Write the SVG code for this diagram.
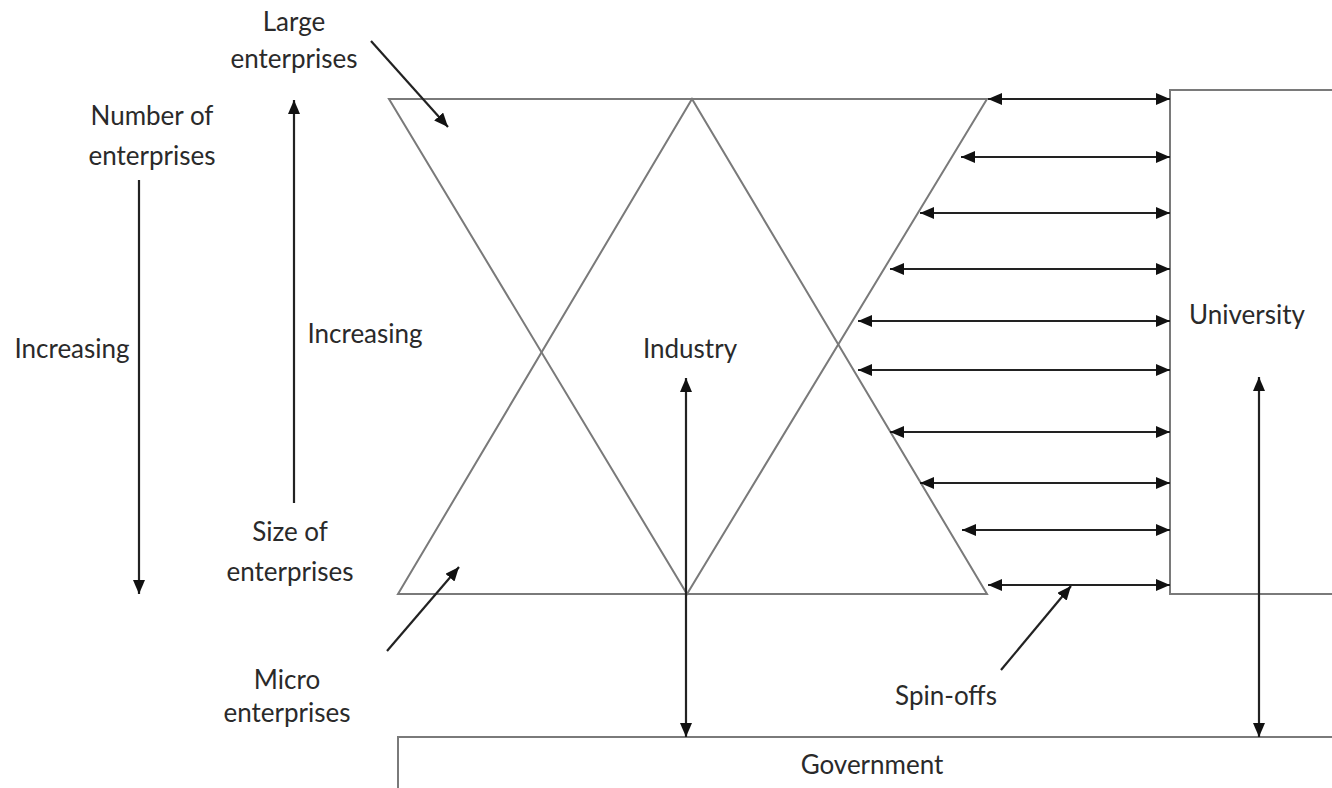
<svg xmlns="http://www.w3.org/2000/svg" width="1332" height="788" viewBox="0 0 1332 788">
<defs>
<marker id="ah" viewBox="0 0 14 12" refX="14" refY="6" markerWidth="14" markerHeight="12" markerUnits="userSpaceOnUse" orient="auto-start-reverse">
<path d="M0,0 L14,6 L0,12 z" fill="#111"/>
</marker>
<style>
.shape{fill:none;stroke:#7a7a7a;stroke-width:2}
.box{fill:#fff;stroke:#7a7a7a;stroke-width:2}
.ar{fill:none;stroke:#222;stroke-width:2.2;marker-end:url(#ah)}
.dar{fill:none;stroke:#222;stroke-width:2.2;marker-end:url(#ah);marker-start:url(#ah)}
.t{font-family:Lato,"Open Sans","Liberation Sans",sans-serif;font-size:26px;fill:#2a2a2a;text-anchor:middle}
</style>
</defs>
<rect width="1332" height="788" fill="#fff"/>
<g id="industry">
<polygon class="shape" points="398,594 692,99 987,594"/>
<polygon class="shape" points="389,99 987,99 687,594"/>
<text class="t" x="690" y="358">Industry</text>
</g>
<g id="university">
<rect class="box" x="1170" y="90" width="180" height="504"/>
<text class="t" x="1247" y="324">University</text>
</g>
<g id="government">
<rect class="box" x="398" y="737" width="960" height="60"/>
<text class="t" x="872" y="774">Government</text>
</g>
<g id="labels">
<text class="t" x="294" y="31">Large</text>
<text class="t" x="294" y="68">enterprises</text>
<text class="t" x="152" y="125">Number of</text>
<text class="t" x="152" y="165">enterprises</text>
<text class="t" x="72" y="358">Increasing</text>
<text class="t" x="365" y="343">Increasing</text>
<text class="t" x="290" y="541">Size of</text>
<text class="t" x="290" y="581">enterprises</text>
<text class="t" x="287" y="689">Micro</text>
<text class="t" x="287" y="722">enterprises</text>
<text class="t" x="946" y="705">Spin-offs</text>
</g>
<g id="connectors">
<line class="dar" x1="988" y1="99" x2="1170" y2="99"/>
<line class="dar" x1="961" y1="157" x2="1170" y2="157"/>
<line class="dar" x1="920" y1="213" x2="1170" y2="213"/>
<line class="dar" x1="890" y1="269" x2="1170" y2="269"/>
<line class="dar" x1="858" y1="321" x2="1170" y2="321"/>
<line class="dar" x1="858" y1="370" x2="1170" y2="370"/>
<line class="dar" x1="890" y1="432" x2="1170" y2="432"/>
<line class="dar" x1="920" y1="483" x2="1170" y2="483"/>
<line class="dar" x1="962" y1="530" x2="1170" y2="530"/>
<line class="dar" x1="988" y1="585" x2="1170" y2="585"/>
<line class="dar" x1="686" y1="378" x2="686" y2="737"/>
<line class="dar" x1="1259" y1="377" x2="1259" y2="737"/>
<line class="ar" x1="139" y1="180" x2="139" y2="594"/>
<line class="ar" x1="294" y1="503" x2="294" y2="100"/>
<line class="ar" x1="371" y1="41" x2="448" y2="127"/>
<line class="ar" x1="387" y1="651" x2="459" y2="567"/>
<line class="ar" x1="1001" y1="670" x2="1071" y2="586"/>
</g>
</svg>
